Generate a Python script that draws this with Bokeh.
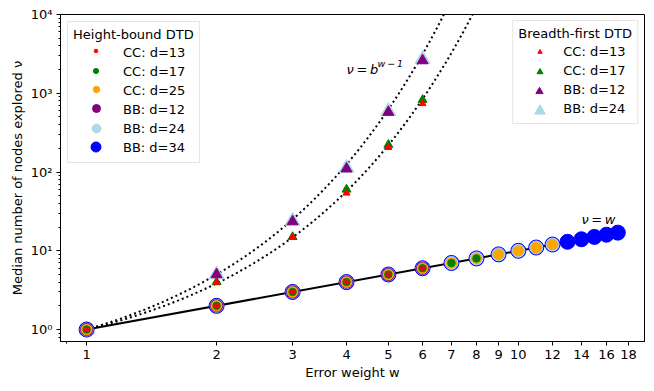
import numpy as np
from bokeh.plotting import figure
from bokeh.models import (ColumnDataSource, Legend, LegendItem, FixedTicker,
                          Range1d, Label)
from bokeh.embed import file_html
from bokeh.resources import INLINE

# ---------------- data ----------------
# Height-bound DTD (circles): error weight w, median nodes explored v
hb_cc13_w = [1, 2, 3, 4, 5, 6]
hb_cc13_v = [1, 2, 3, 4, 5, 6]
hb_cc17_w = [1, 2, 3, 4, 5, 6, 7, 8]
hb_cc17_v = [1, 2, 3, 4, 5, 6, 7, 8]
hb_cc25_w = [1, 2, 3, 4, 5, 6, 7, 8, 9, 10, 11, 12]
hb_cc25_v = [1, 2, 3, 4, 5, 6, 7, 8, 9, 10, 11, 12]
hb_bb12_w = [1, 2, 3, 4, 5, 6]
hb_bb12_v = [1, 2, 3, 4, 5, 6]
hb_bb24_w = [1, 2, 3, 4, 5, 6, 7, 8, 9, 10, 11, 12]
hb_bb24_v = [1, 2, 3, 4, 5, 6, 7, 8, 9, 10, 11, 12]
hb_bb34_w = [1, 2, 3, 4, 5, 6, 7, 8, 9, 10, 11, 12, 13, 14, 15, 16, 17]
hb_bb34_v = [1, 2, 3, 4, 5, 6, 7, 8, 9, 10, 11, 12, 13, 14, 15, 16, 17]

# Breadth-first DTD (triangles)
bf_w = [1, 2, 3, 4, 5, 6]
bf_cc13_v = [1, 4, 15, 54, 205, 740]
bf_cc17_v = [1, 4, 15, 60, 222, 825]
bf_bb12_v = [1, 5, 23.5, 110, 575, 2600]
bf_bb24_v = [1, 5, 24, 113, 590, 2700]

# reference curves v = b^(w-1)
b_upper = 5.0
b_lower = 3.85
curve_w_range = [1, 8]
# reference line v = w
line_w = [hb_bb34_w[0], hb_bb34_w[-1]]

x_ticks = [1, 2, 3, 4, 5, 6, 7, 8, 9, 10, 12, 14, 16, 18]
x_tick_labels = ["1", "2", "3", "4", "5", "6", "7", "8", "9", "10",
                 "12", "14", "16", "18"]
y_ticks = [1, 10, 100, 1000, 10000]
y_tick_labels = ["10\u2070", "10\u00b9", "10\u00b2", "10\u00b3", "10\u2074"]

hb_labels = ["CC: d=13", "CC: d=17", "CC: d=25", "BB: d=12", "BB: d=24", "BB: d=34"]
hb_colors = ["red", "green", "orange", "purple", "lightblue", "blue"]
bf_labels = ["CC: d=13", "CC: d=17", "BB: d=12", "BB: d=24"]
bf_colors = ["red", "green", "purple", "lightblue"]

FONT = "DejaVu Sans"
FS = "13px"

# ---------------- layout constants ----------------
FIG_W, FIG_H = 654, 391
B_LEFT, B_RIGHT, B_TOP, B_BOTTOM = 60, 10, 14, 50
FRAME_H = FIG_H - B_TOP - B_BOTTOM
# legend marker box sizes (px; marker = 0.4 * box) and row centres
# (px from frame left / frame top)
hb_leg_boxes = [9, 13, 16, 20, 22, 25]
hb_leg_cx = 35.7
hb_leg_cy = [36.7, 56.0, 75.3, 94.3, 113.7, 132.7]
bf_leg_boxes = [11, 15, 18, 27]
bf_leg_cx = 479.0
bf_leg_cy = [37.0, 56.7, 75.7, 95.0]

p = figure(width=FIG_W, height=FIG_H, x_axis_type="log", y_axis_type="log",
           x_range=Range1d(0.87, 19.6), y_range=Range1d(0.705, 1e4),
           output_backend="svg", toolbar_location=None,
           min_border_left=B_LEFT, min_border_right=B_RIGHT, min_border_top=B_TOP,
           min_border_bottom=B_BOTTOM)
p.grid.visible = False
p.outline_line_color = "black"
p.outline_line_width = 1
p.background_fill_color = "white"
p.border_fill_color = "white"

# axes
p.xaxis.ticker = FixedTicker(ticks=x_ticks, minor_ticks=[0.9])
p.xaxis.major_label_overrides = {int(t): l for t, l in zip(x_ticks, x_tick_labels)}
y_minor = [k * 10.0 ** n for n in range(-1, 4) for k in range(2, 10)]
p.yaxis.ticker = FixedTicker(ticks=y_ticks, minor_ticks=y_minor)
p.yaxis.major_label_overrides = {int(t): l for t, l in zip(y_ticks, y_tick_labels)}
for ax in (p.xaxis[0], p.yaxis[0]):
    ax.major_label_text_font = FONT
    ax.major_label_text_font_size = FS
    ax.major_label_text_color = "black"
    ax.axis_label_text_font = FONT
    ax.axis_label_text_font_size = FS
    ax.axis_label_text_font_style = "normal"
    ax.axis_label_text_color = "black"
    ax.axis_line_color = "black"
    ax.major_tick_line_color = "black"
    ax.minor_tick_line_color = "black"
    ax.major_tick_out = 4
    ax.major_tick_in = 0
    ax.minor_tick_out = 2
    ax.minor_tick_in = 0
    ax.major_label_standoff = 4
    ax.axis_label_standoff = 3
p.xaxis.axis_label = "Error weight w"
p.yaxis.axis_label = "Median number of nodes explored \u03bd"

# curves v = b^(w-1)
cw = np.linspace(curve_w_range[0], curve_w_range[1], 200)
p.line(cw, b_upper ** (cw - 1), line_color="black", line_width=2, line_dash="2 3")
p.line(cw, b_lower ** (cw - 1), line_color="black", line_width=2, line_dash="2 3")
# v = w
p.line(line_w, line_w, line_color="black", line_width=2)

# triangles (breadth-first)
p.scatter(bf_w, bf_bb24_v, marker="triangle", size=15, color="lightblue")
p.scatter(bf_w, bf_bb12_v, marker="triangle", size=11, color="purple")
p.scatter(bf_w, bf_cc17_v, marker="triangle", size=9, color="green")
p.scatter(bf_w, bf_cc13_v, marker="triangle", size=7, color="red")

# circles (height-bound)
p.scatter(hb_bb34_w, hb_bb34_v, marker="circle", size=15, color="blue")
p.scatter(hb_bb24_w, hb_bb24_v, marker="circle", size=13, color="lightblue")
p.scatter(hb_bb12_w, hb_bb12_v, marker="circle", size=12.5, color="purple", alpha=0.75)
p.scatter(hb_cc25_w, hb_cc25_v, marker="circle", size=10.5, color="orange")
p.scatter(hb_cc17_w, hb_cc17_v, marker="circle", size=7.5, color="green")
p.scatter(hb_cc13_w, hb_cc13_v, marker="circle", size=4.5, color="red")

# ---------------- legends ----------------
def proxy(marker, color, alpha=1.0):
    src = ColumnDataSource(data=dict(x=[float("nan")], y=[float("nan")]))
    return p.scatter(x="x", y="y", source=src, marker=marker, size=8,
                     color=color, alpha=alpha)

def make_legend(labels, title, loc, gw, ls, margin):
    items = [LegendItem(label=l, renderers=[proxy("circle", "white", 0.0)], index=0)
             for l in labels]
    return Legend(items=items, title=title, location=loc, margin=margin, padding=5,
                  spacing=0, glyph_height=19, label_height=19, glyph_width=gw,
                  label_standoff=ls, title_standoff=1,
                  label_text_font=FONT, label_text_font_size=FS,
                  label_text_color="black",
                  title_text_font=FONT, title_text_font_size=FS,
                  title_text_font_style="normal", title_text_color="black",
                  border_line_color="#cccccc", border_line_width=1,
                  background_fill_color="white", background_fill_alpha=0.8)

p.add_layout(make_legend(hb_labels, "Height-bound DTD", "top_left", 50, 0, 7))
p.add_layout(make_legend(bf_labels, "Breadth-first DTD", "top_right", 42, 3, 6))

def marker_key(marker, color, g, cx, cy):
    # a one-glyph legend; Bokeh draws the marker at 0.4 * glyph box
    if marker == "triangle":
        cy = cy + 0.144 * 0.4 * g
    loc = (cx - g / 2, FRAME_H - cy - g / 2)
    item = LegendItem(label=" ", renderers=[proxy(marker, color)], index=0)
    p.add_layout(Legend(items=[item], location=loc, margin=0, padding=0, spacing=0,
                        glyph_width=g, glyph_height=g, label_height=0, label_width=0,
                        label_standoff=0, label_text_font_size="1px",
                        border_line_alpha=0, background_fill_alpha=0))

for c, g, cy in zip(hb_colors, hb_leg_boxes, hb_leg_cy):
    marker_key("circle", c, g, hb_leg_cx, cy)
for c, g, cy in zip(bf_colors, bf_leg_boxes, bf_leg_cy):
    marker_key("triangle", c, g, bf_leg_cx, cy)

# annotations
lab_upper = (4, 2000)
lab_line = (14, 25)
p.add_layout(Label(x=lab_upper[0], y=lab_upper[1], text="\u03bd\u2009=\u2009b",
                   text_font=FONT, text_font_size=FS, text_font_style="italic",
                   text_color="black", text_baseline="alphabetic"))
p.add_layout(Label(x=lab_upper[0], y=lab_upper[1], x_offset=31, y_offset=6,
                   text="w\u2009\u2212\u20091", text_color="black",
                   text_font=FONT, text_font_size="9.5px", text_font_style="italic",
                   text_baseline="alphabetic"))
p.add_layout(Label(x=lab_line[0], y=lab_line[1], text="\u03bd\u2009=\u2009w",
                   text_font=FONT, text_font_size=FS, text_font_style="italic",
                   text_color="black", text_baseline="alphabetic"))

open("out.html", "w").write(file_html(p, INLINE))
